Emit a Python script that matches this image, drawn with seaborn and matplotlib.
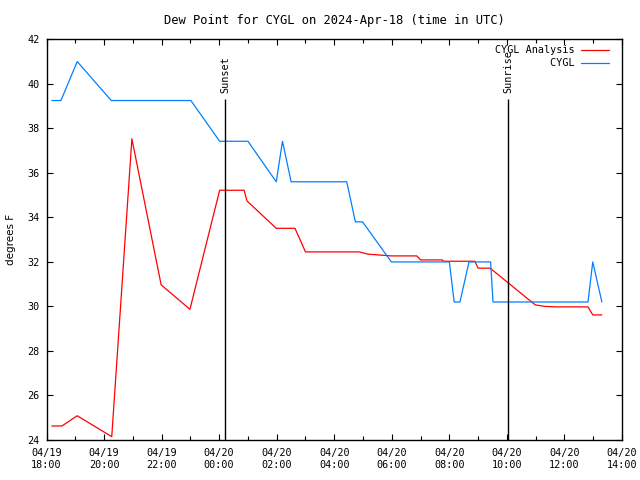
import pandas as pd
import matplotlib
matplotlib.use("Agg")
import matplotlib.pyplot as plt
import matplotlib.dates as mdates
import seaborn as sns

# observed dew point (CYGL)
obs_times = ["2024-04-19 18:11", "2024-04-19 18:30", "2024-04-19 19:04", "2024-04-19 20:15",
             "2024-04-19 23:01", "2024-04-20 00:01", "2024-04-20 01:00", "2024-04-20 01:59",
             "2024-04-20 02:12", "2024-04-20 02:30", "2024-04-20 04:26", "2024-04-20 04:44",
             "2024-04-20 04:59", "2024-04-20 05:59", "2024-04-20 08:00", "2024-04-20 08:10",
             "2024-04-20 08:22", "2024-04-20 08:41", "2024-04-20 09:26", "2024-04-20 09:31",
             "2024-04-20 12:49", "2024-04-20 12:59", "2024-04-20 13:18"]
obs_dewpt = [39.25, 39.25, 41.0, 39.25, 39.25, 37.42, 37.42, 35.6, 37.42, 35.6, 35.6, 33.8,
             33.8, 32.0, 32.0, 30.2, 30.2, 32.0, 32.0, 30.2, 30.2, 32.0, 30.2]

# analysis dew point (CYGL Analysis)
ana_times = ["2024-04-19 18:11", "2024-04-19 18:32", "2024-04-19 19:04", "2024-04-19 20:16",
             "2024-04-19 20:58", "2024-04-19 21:59", "2024-04-19 22:59", "2024-04-20 00:01",
             "2024-04-20 00:52", "2024-04-20 00:58", "2024-04-20 01:59", "2024-04-20 02:38",
             "2024-04-20 03:00", "2024-04-20 04:52", "2024-04-20 05:10", "2024-04-20 05:59",
             "2024-04-20 06:52", "2024-04-20 07:00", "2024-04-20 07:45", "2024-04-20 07:48",
             "2024-04-20 08:53", "2024-04-20 09:00", "2024-04-20 09:25", "2024-04-20 10:59",
             "2024-04-20 11:20", "2024-04-20 11:46", "2024-04-20 12:49", "2024-04-20 12:59",
             "2024-04-20 13:18"]
ana_dewpt = [24.63, 24.63, 25.09, 24.15, 37.53, 30.97, 29.87, 35.22, 35.22, 34.74, 33.51,
             33.51, 32.45, 32.45, 32.35, 32.27, 32.27, 32.09, 32.09, 32.03, 32.03, 31.72,
             31.72, 30.07, 30.0, 29.98, 29.98, 29.62, 29.62]

sun_events = ["Sunset", "Sunrise"]
sun_times = ["2024-04-20 00:12", "2024-04-20 10:03"]

sns.set_style("white")
plt.rcParams["font.family"] = ["DejaVu Sans Mono", "DejaVu Sans"]
plt.rcParams["font.size"] = 7.3
plt.rcParams["text.color"] = "black"
plt.rcParams["axes.labelcolor"] = "black"
plt.rcParams["xtick.color"] = "black"
plt.rcParams["ytick.color"] = "black"

ana = pd.DataFrame({"time": pd.to_datetime(ana_times), "dewpt": ana_dewpt})
obs = pd.DataFrame({"time": pd.to_datetime(obs_times), "dewpt": obs_dewpt})

fig = plt.figure(figsize=(6.4, 4.8), dpi=100)
ax = fig.add_axes([0.0727, 0.0833, 0.8992, 0.8348])

sns.lineplot(data=ana, x="time", y="dewpt", ax=ax, color="#ff0000", lw=0.9,
             estimator=None, label="CYGL Analysis")
sns.lineplot(data=obs, x="time", y="dewpt", ax=ax, color="#0080ff", lw=0.9,
             estimator=None, label="         CYGL")

for name, t in zip(sun_events, pd.to_datetime(sun_times)):
    ax.vlines(t, 24, 39.3, color="black", lw=1)
    ax.text(t, 39.6, name, rotation=90, ha="center", va="bottom")

ax.set_xlim(pd.Timestamp("2024-04-19 18:00"), pd.Timestamp("2024-04-20 14:00"))
ax.set_ylim(24, 42)
ax.set_yticks(range(24, 43, 2))
ax.xaxis.set_major_locator(mdates.HourLocator(byhour=range(0, 24, 2)))
ax.xaxis.set_minor_locator(mdates.HourLocator())
ax.xaxis.set_major_formatter(mdates.DateFormatter("%m/%d\n%H:%M"))

ax.tick_params(which="both", direction="in", top=True, right=True, bottom=True, left=True)
ax.tick_params(which="major", length=4, width=0.8, pad=5)
ax.tick_params(which="minor", length=3, width=0.8)
ax.tick_params(axis="x", which="major", pad=6)
for s in ax.spines.values():
    s.set_color("black")
    s.set_linewidth(1)

ax.set_xlabel("")
ax.set_ylabel("degrees F", family="DejaVu Sans", fontsize=7.5, labelpad=8)
ax.set_title("Dew Point for CYGL on 2024-Apr-18 (time in UTC)", pad=11)

ax.legend(loc="upper right", bbox_to_anchor=(0.988, 1.0), frameon=False, markerfirst=False,
          handlelength=2.8, borderaxespad=0.2, labelspacing=0.3, handletextpad=0.6)

plt.savefig("out.png", dpi=100)
plt.close()
